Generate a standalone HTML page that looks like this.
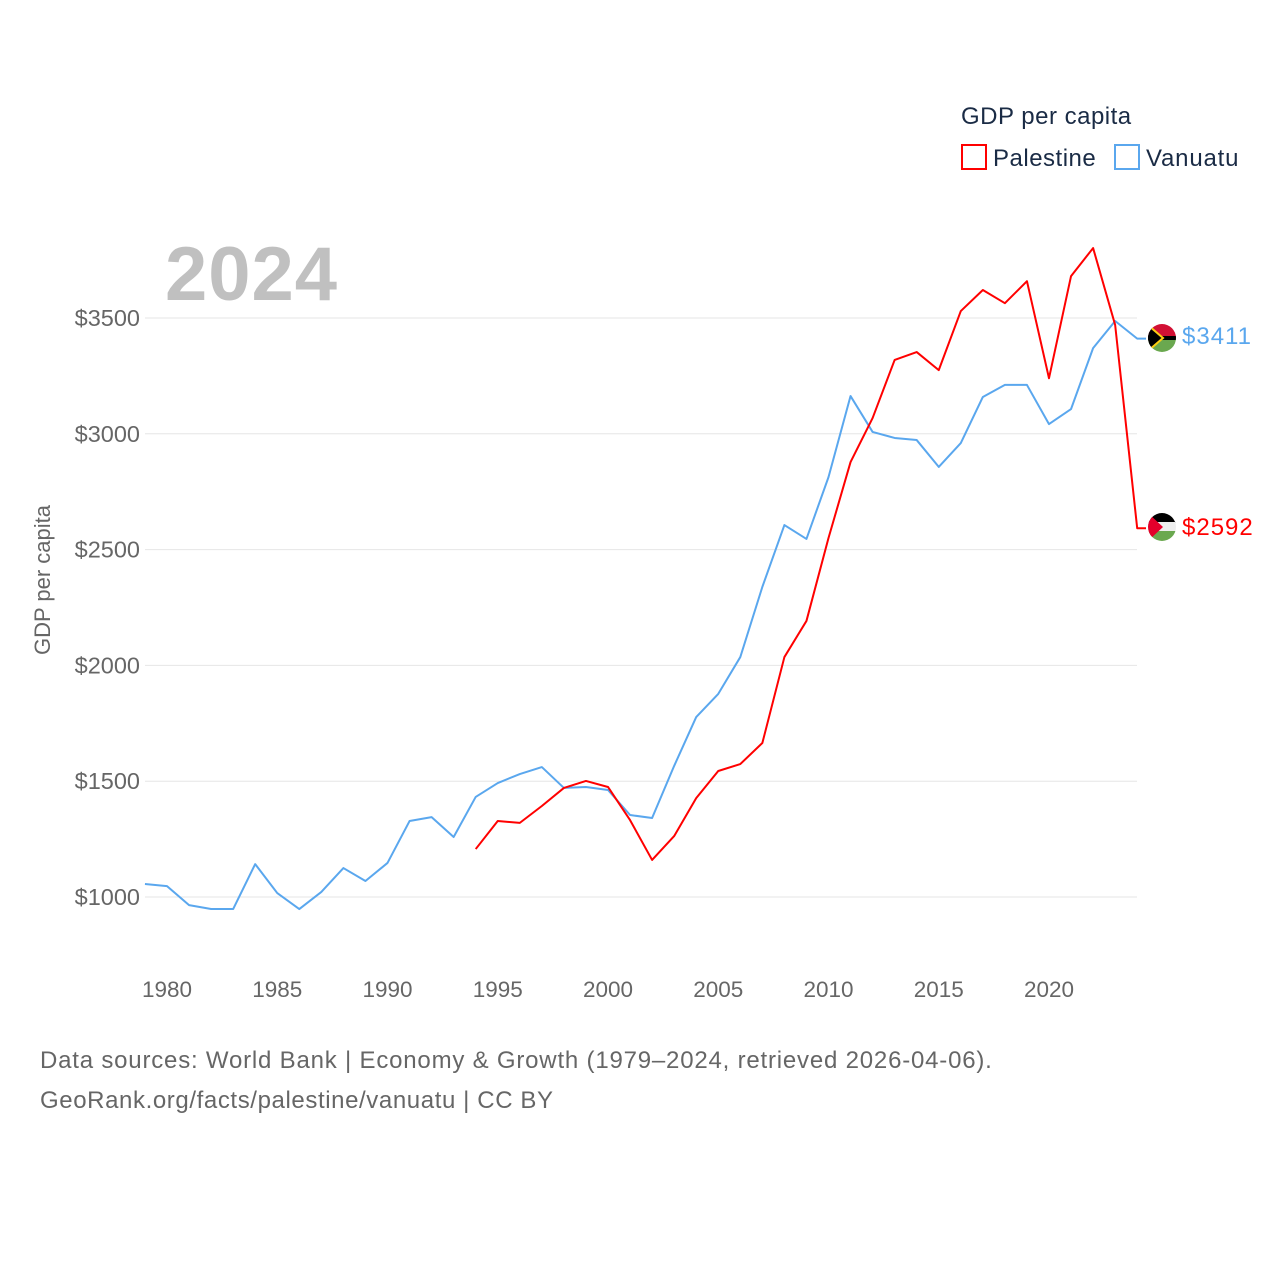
<!DOCTYPE html>
<html><head><meta charset="utf-8"><style>
body{margin:0;background:#fff;font-family:"Liberation Sans",sans-serif}
svg{display:block}
</style></head><body>
<svg id="chart" width="1280" height="1280" xmlns="http://www.w3.org/2000/svg">
<rect width="1280" height="1280" fill="#fff"/>
<g id="grid"></g>
<g id="ticks"></g>
<text x="165" y="300" font-size="76" font-weight="bold" fill="#c0c0c0" letter-spacing="1">2024</text>
<text transform="translate(50,580) rotate(-90)" text-anchor="middle" font-size="22" fill="#666">GDP per capita</text>
<text x="961" y="124" font-size="24" fill="#1a2b45" letter-spacing="0.5">GDP per capita</text>
<rect x="962" y="145" width="24" height="24" fill="none" stroke="#ff0000" stroke-width="2"/>
<text x="993" y="166" font-size="24" fill="#1a2b45" letter-spacing="0.5">Palestine</text>
<rect x="1115" y="145" width="24" height="24" fill="none" stroke="#5aa7ee" stroke-width="2"/>
<text x="1146" y="166" font-size="24" fill="#1a2b45" letter-spacing="0.8">Vanuatu</text>
<g id="series"></g>
<defs>
<clipPath id="c1"><circle cx="1162" cy="338" r="14"/></clipPath>
<clipPath id="c2"><circle cx="1162" cy="527" r="14"/></clipPath>
</defs>
<g clip-path="url(#c1)">
<rect x="1148" y="324" width="28" height="14" fill="#d21034"/>
<rect x="1148" y="338" width="28" height="14" fill="#6aa84f"/>
<rect x="1148" y="336" width="28" height="4" fill="#000"/>
<polygon points="1148,324 1164,338 1148,352" fill="#000"/>
<polyline points="1148,325 1163,338 1148,351" fill="none" stroke="#fdce12" stroke-width="2"/>
</g>
<g clip-path="url(#c2)">
<rect x="1148" y="513" width="28" height="10" fill="#000"/>
<rect x="1148" y="522" width="28" height="10" fill="#eee"/>
<rect x="1148" y="531" width="28" height="10" fill="#6aa84f"/>
<polygon points="1148,513 1163,527 1148,541" fill="#e4002b"/>
</g>
<text x="1182" y="344" font-size="24" fill="#5aa7ee" letter-spacing="1">$3411</text>
<text x="1182" y="535" font-size="24" fill="#ff0000" letter-spacing="1">$2592</text>
<text x="40" y="1068" font-size="24" fill="#666" letter-spacing="0.8">Data sources: World Bank | Economy &amp; Growth (1979–2024, retrieved 2026-04-06).</text>
<text x="40" y="1108" font-size="24" fill="#666" letter-spacing="0.6">GeoRank.org/facts/palestine/vanuatu | CC BY</text>
</svg>
<script>
const yTicks=[1000,1500,2000,2500,3000,3500];
const xTicks=[1980,1985,1990,1995,2000,2005,2010,2015,2020];
const vanuatuYears=[1979,1980,1981,1982,1983,1984,1985,1986,1987,1988,1989,1990,1991,1992,1993,1994,1995,1996,1997,1998,1999,2000,2001,2002,2003,2004,2005,2006,2007,2008,2009,2010,2011,2012,2013,2014,2015,2016,2017,2018,2019,2020,2021,2022,2023,2024];
const vanuatuValues=[1056,1047,965,948,948,1142,1017,948,1022,1125,1069,1147,1328,1345,1259,1432,1492,1531,1561,1471,1475,1462,1354,1341,1566,1777,1877,2036,2339,2606,2546,2813,3163,3008,2982,2973,2857,2960,3159,3211,3211,3042,3107,3370,3487,3411];
const palestineYears=[1994,1995,1996,1997,1998,1999,2000,2001,2002,2003,2004,2005,2006,2007,2008,2009,2010,2011,2012,2013,2014,2015,2016,2017,2018,2019,2020,2021,2022,2023,2024];
const palestineValues=[1207,1328,1320,1393,1471,1501,1475,1332,1160,1263,1427,1544,1574,1665,2036,2192,2550,2878,3068,3319,3353,3275,3530,3621,3564,3659,3240,3681,3802,3470,2592];
const NS="http://www.w3.org/2000/svg";
const X=y=>167+(y-1980)*22.05;
const Y=v=>897-(v-1000)*0.2316;
const grid=document.getElementById('grid'),ticks=document.getElementById('ticks'),series=document.getElementById('series');
function mk(t,a){const e=document.createElementNS(NS,t);for(const k in a)e.setAttribute(k,a[k]);return e;}
yTicks.forEach(v=>{
 const l=mk('line',{x1:145,x2:1137,y1:Y(v),y2:Y(v),stroke:'#e6e6e6','stroke-width':1});
 
 
 grid.appendChild(l);
 const t=mk('text',{x:140,y:Y(v)+8,'text-anchor':'end','font-size':23.5,fill:'#666'});
 t.textContent='$'+v;
 
 
 ticks.appendChild(t);
});
xTicks.forEach(y=>{
 const t=mk('text',{x:X(y),y:997,'text-anchor':'middle','font-size':22.5,fill:'#666'});
 t.textContent=y;
 
 
 ticks.appendChild(t);
});
function line(years,vals,color,name){
 let pts=years.map((y,i)=>X(y)+','+Y(vals[i]));
 pts.push('1146,'+Y(vals[vals.length-1]));
 const p=mk('polyline',{points:pts.join(' '),fill:'none',stroke:color,'stroke-width':2,'stroke-linejoin':'round'});
 
 
 series.appendChild(p);
}
line(vanuatuYears,vanuatuValues,'#5aa7ee','vanuatu-line');
line(palestineYears,palestineValues,'#ff0000','palestine-line');
</script>
</body></html>
